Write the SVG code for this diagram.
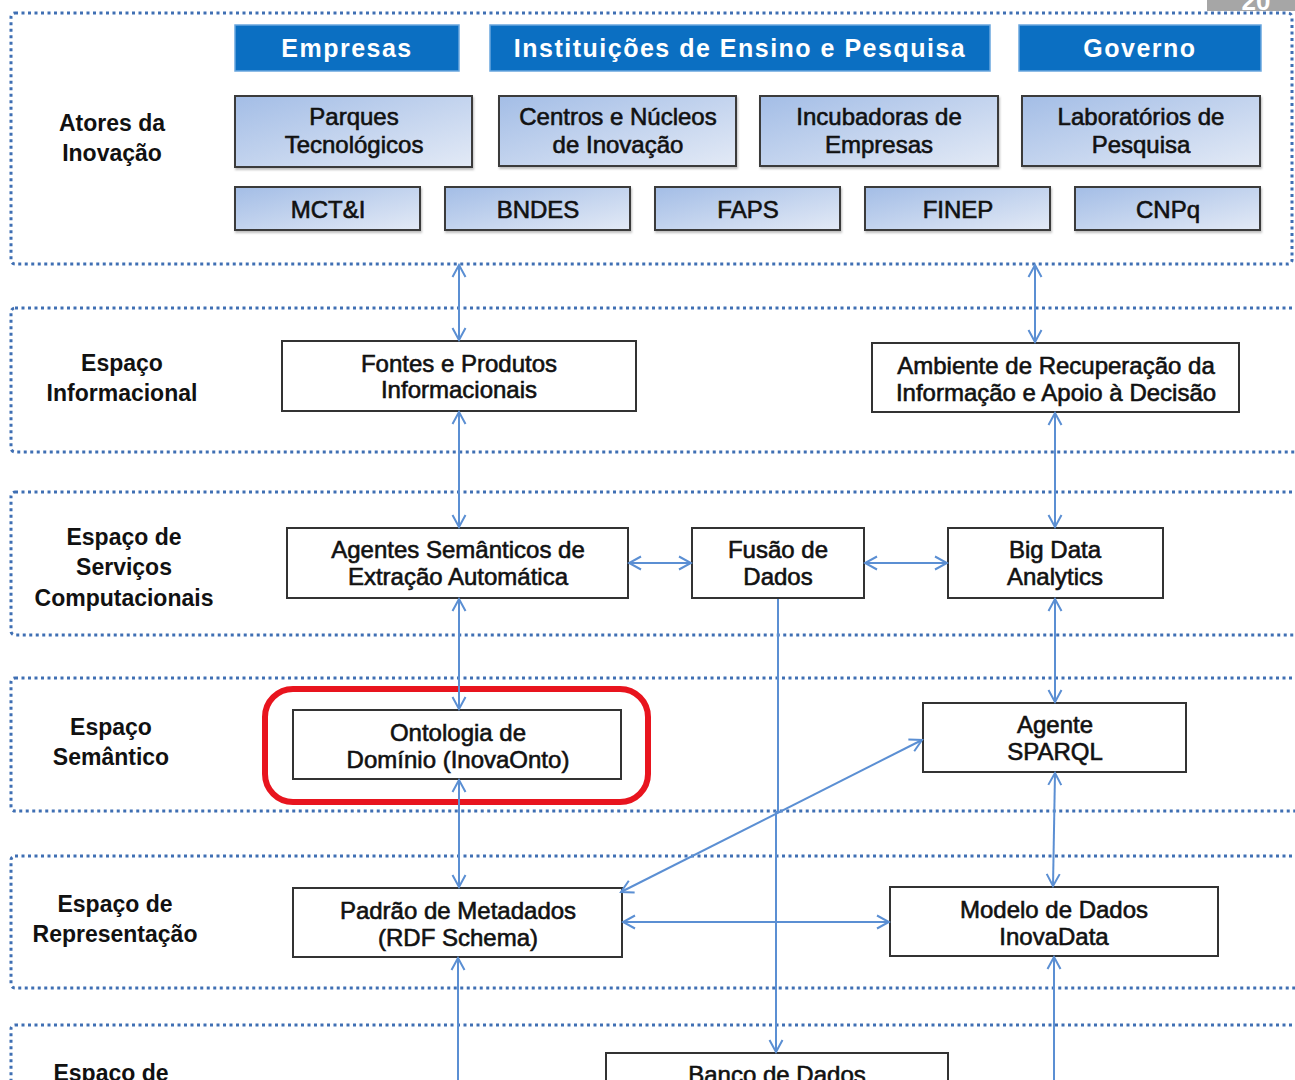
<svg xmlns="http://www.w3.org/2000/svg" width="1295" height="1080" viewBox="0 0 1295 1080">
<defs>
<linearGradient id="gb" x1="0" y1="0" x2="1" y2="1">
<stop offset="0" stop-color="#a3bde6"/>
<stop offset="1" stop-color="#e3eaf6"/>
</linearGradient>
<marker id="ah" viewBox="0 0 16 16" refX="14" refY="8" markerWidth="16" markerHeight="16" markerUnits="userSpaceOnUse" orient="auto-start-reverse">
<path d="M2,1.5 L14,8 L2,14.5" fill="none" stroke="#5b8fd3" stroke-width="2"/>
</marker>
<filter id="sh" x="-5%" y="-5%" width="115%" height="130%">
<feDropShadow dx="1" dy="2" stdDeviation="1" flood-color="#000" flood-opacity="0.25"/>
</filter>
</defs>
<style>
.band{fill:none;stroke:#3f6fb3;stroke-width:3;stroke-dasharray:3 3.5}
.lbl{font-family:"Liberation Sans",Arial,sans-serif;font-size:23px;font-weight:bold;fill:#111;text-anchor:middle}
.hdr rect{fill:#0b6fc2;stroke:#6aa6de;stroke-width:1.5}
.hdr text{font-family:"Liberation Sans",Arial,sans-serif;font-size:25px;font-weight:bold;fill:#fff;text-anchor:middle;letter-spacing:1.5px}
.act rect{fill:url(#gb);stroke:#3a3a3a;stroke-width:2}
.nd rect{fill:#fff;stroke:#333;stroke-width:2}
.t{font-family:"Liberation Sans",Arial,sans-serif;font-size:24px;fill:#111;stroke:#111;stroke-width:0.6;text-anchor:middle}
.c{fill:none;stroke:#5b8fd3;stroke-width:2}
</style>
<rect width="1295" height="1080" fill="#fff"/>
<g id="pagetab">
<rect x="1207" y="-2" width="90" height="13" fill="#a6a6a6"/>
<text x="1256" y="10" font-family="Liberation Sans,Arial,sans-serif" font-size="26" font-weight="bold" fill="#fff" text-anchor="middle">20</text>
</g>
<g id="bands">
<rect class="band" x="11" y="13" width="1281" height="251" rx="4"/>
<rect class="band" x="11" y="308" width="1295" height="144" rx="4"/>
<rect class="band" x="11" y="492" width="1295" height="143" rx="4"/>
<rect class="band" x="11" y="678" width="1295" height="133" rx="4"/>
<rect class="band" x="11" y="856" width="1295" height="132" rx="4"/>
<rect class="band" x="11" y="1025" width="1295" height="100" rx="4"/>
</g>
<g id="labels">
<text class="lbl" x="112" y="131">Atores da</text>
<text class="lbl" x="112" y="161">Inovação</text>
<text class="lbl" x="122" y="371">Espaço</text>
<text class="lbl" x="122" y="401">Informacional</text>
<text class="lbl" x="124" y="545">Espaço de</text>
<text class="lbl" x="124" y="575">Serviços</text>
<text class="lbl" x="124" y="606">Computacionais</text>
<text class="lbl" x="111" y="735">Espaço</text>
<text class="lbl" x="111" y="765">Semântico</text>
<text class="lbl" x="115" y="912">Espaço de</text>
<text class="lbl" x="115" y="942">Representação</text>
<text class="lbl" x="111" y="1081">Espaço de</text>
</g>
<g id="empresas" class="hdr"><rect x="235" y="25" width="224" height="46"/><text x="347" y="57">Empresas</text></g>
<g id="instituicoes" class="hdr"><rect x="490" y="25" width="500" height="46"/><text x="740" y="57">Instituições de Ensino e Pesquisa</text></g>
<g id="governo" class="hdr"><rect x="1019" y="25" width="242" height="46"/><text x="1140" y="57">Governo</text></g>
<g id="parques" class="act"><rect x="235" y="96" width="237" height="71" filter="url(#sh)"/><text class="t" x="354" y="125">Parques</text><text class="t" x="354" y="153">Tecnológicos</text></g>
<g id="centros" class="act"><rect x="499" y="96" width="237" height="70" filter="url(#sh)"/><text class="t" x="618" y="125">Centros e Núcleos</text><text class="t" x="618" y="153">de Inovação</text></g>
<g id="incubadoras" class="act"><rect x="760" y="96" width="238" height="70" filter="url(#sh)"/><text class="t" x="879" y="125">Incubadoras de</text><text class="t" x="879" y="153">Empresas</text></g>
<g id="laboratorios" class="act"><rect x="1022" y="96" width="238" height="70" filter="url(#sh)"/><text class="t" x="1141" y="125">Laboratórios de</text><text class="t" x="1141" y="153">Pesquisa</text></g>
<g id="mcti" class="act"><rect x="235" y="187" width="185" height="43" filter="url(#sh)"/><text class="t" x="328" y="218">MCT&amp;I</text></g>
<g id="bndes" class="act"><rect x="445" y="187" width="185" height="43" filter="url(#sh)"/><text class="t" x="538" y="218">BNDES</text></g>
<g id="faps" class="act"><rect x="655" y="187" width="185" height="43" filter="url(#sh)"/><text class="t" x="748" y="218">FAPS</text></g>
<g id="finep" class="act"><rect x="865" y="187" width="185" height="43" filter="url(#sh)"/><text class="t" x="958" y="218">FINEP</text></g>
<g id="cnpq" class="act"><rect x="1075" y="187" width="185" height="43" filter="url(#sh)"/><text class="t" x="1168" y="218">CNPq</text></g>
<g id="fontes" class="nd"><rect x="282" y="341" width="354" height="70"/><text class="t" x="459" y="372">Fontes e Produtos</text><text class="t" x="459" y="398">Informacionais</text></g>
<g id="ambiente" class="nd"><rect x="872" y="343" width="367" height="69"/><text class="t" x="1056" y="374">Ambiente de Recuperação da</text><text class="t" x="1056" y="401">Informação e Apoio à Decisão</text></g>
<g id="agentes" class="nd"><rect x="287" y="528" width="341" height="70"/><text class="t" x="458" y="558">Agentes Semânticos de</text><text class="t" x="458" y="585">Extração Automática</text></g>
<g id="fusao" class="nd"><rect x="692" y="528" width="172" height="70"/><text class="t" x="778" y="558">Fusão de</text><text class="t" x="778" y="585">Dados</text></g>
<g id="bigdata" class="nd"><rect x="948" y="528" width="215" height="70"/><text class="t" x="1055" y="558">Big Data</text><text class="t" x="1055" y="585">Analytics</text></g>
<g id="ontologia"><rect x="265" y="689" width="383" height="113" rx="28" fill="none" stroke="#e8141e" stroke-width="6"/><g class="nd"><rect x="293" y="710" width="328" height="69"/><text class="t" x="458" y="741">Ontologia de</text><text class="t" x="458" y="768">Domínio (InovaOnto)</text></g></g>
<g id="sparql" class="nd"><rect x="923" y="703" width="263" height="69"/><text class="t" x="1055" y="733">Agente</text><text class="t" x="1055" y="760">SPARQL</text></g>
<g id="padrao" class="nd"><rect x="293" y="888" width="329" height="69"/><text class="t" x="458" y="919">Padrão de Metadados</text><text class="t" x="458" y="946">(RDF Schema)</text></g>
<g id="modelo" class="nd"><rect x="890" y="887" width="328" height="69"/><text class="t" x="1054" y="918">Modelo de Dados</text><text class="t" x="1054" y="945">InovaData</text></g>
<g id="banco" class="nd"><rect x="606" y="1053" width="342" height="60"/><text class="t" x="777" y="1083">Banco de Dados</text></g>
<g id="connectors">
<line class="c" x1="459" y1="265" x2="459" y2="340" marker-start="url(#ah)" marker-end="url(#ah)"/>
<line class="c" x1="1035" y1="265" x2="1035" y2="342" marker-start="url(#ah)" marker-end="url(#ah)"/>
<line class="c" x1="459" y1="412" x2="459" y2="527" marker-start="url(#ah)" marker-end="url(#ah)"/>
<line class="c" x1="1055" y1="413" x2="1055" y2="527" marker-start="url(#ah)" marker-end="url(#ah)"/>
<line class="c" x1="629" y1="563" x2="691" y2="563" marker-start="url(#ah)" marker-end="url(#ah)"/>
<line class="c" x1="865" y1="563" x2="947" y2="563" marker-start="url(#ah)" marker-end="url(#ah)"/>
<line class="c" x1="459" y1="599" x2="459" y2="709" marker-start="url(#ah)" marker-end="url(#ah)"/>
<line class="c" x1="1055" y1="599" x2="1055" y2="702" marker-start="url(#ah)" marker-end="url(#ah)"/>
<line class="c" x1="459" y1="780" x2="459" y2="887" marker-start="url(#ah)" marker-end="url(#ah)"/>
<line class="c" x1="1055" y1="773" x2="1053" y2="886" marker-start="url(#ah)" marker-end="url(#ah)"/>
<line class="c" x1="621" y1="892" x2="922" y2="740" marker-start="url(#ah)" marker-end="url(#ah)"/>
<line class="c" x1="623" y1="922" x2="889" y2="922" marker-start="url(#ah)" marker-end="url(#ah)"/>
<polyline class="c" points="778,599 778,812 776,812 776,1052" marker-end="url(#ah)"/>
<line class="c" x1="458" y1="1085" x2="458" y2="958" marker-end="url(#ah)"/>
<line class="c" x1="1054" y1="1085" x2="1054" y2="957" marker-end="url(#ah)"/>
</g>
</svg>
